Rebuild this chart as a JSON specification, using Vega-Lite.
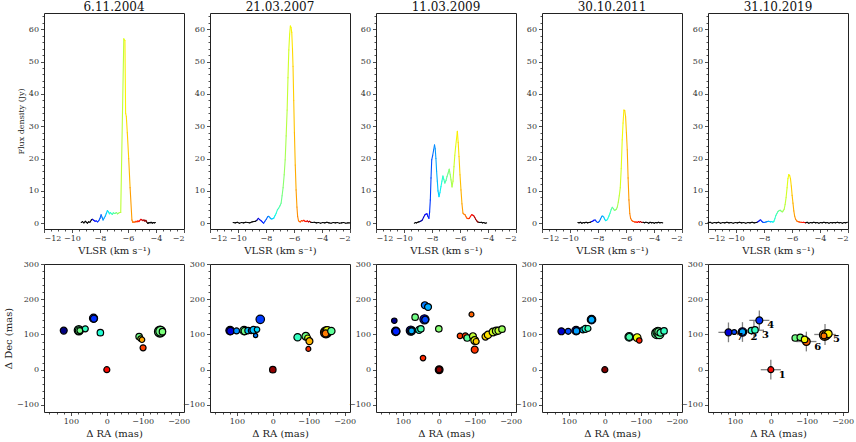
{
"$schema": "https://vega.github.io/schema/vega-lite/v6.json",
"padding": {"left": 3, "top": 0, "right": 4, "bottom": 4},
"background": "white",
"config": {
  "font": "DejaVu Serif",
  "view": {"stroke": "#222", "strokeWidth": 1},
  "axis": {"domain": false, "grid": false, "tickColor": "#222", "tickSize": 3.5, "tickWidth": 0.8, "labelFont": "DejaVu Serif", "labelFontSize": 8, "labelColor": "#333", "labelPadding": 2, "titleFont": "DejaVu Serif", "titleFontSize": 10, "titleFontWeight": "normal", "titleColor": "#222", "titlePadding": 3},
  "title": {"font": "DejaVu Serif", "fontSize": 12, "fontWeight": "normal", "offset": -1, "color": "#111"}
},
"datasets": {
  "s1": [{"v":-9.34,"f":0.2},{"v":-9.25,"f":0.5},{"v":-9.15,"f":0.1},{"v":-9.05,"f":0.6},{"v":-8.98,"f":0.3},{"v":-8.9,"f":0.0},{"v":-8.82,"f":0.4},{"v":-8.72,"f":0.3},{"v":-8.62,"f":1.0},{"v":-8.55,"f":1.2},{"v":-8.45,"f":0.9},{"v":-8.35,"f":0.6},{"v":-8.27,"f":0.7},{"v":-8.17,"f":0.4},{"v":-8.08,"f":0.8},{"v":-8.0,"f":1.5},{"v":-7.92,"f":2.6},{"v":-7.85,"f":1.8},{"v":-7.78,"f":1.0},{"v":-7.7,"f":1.6},{"v":-7.62,"f":2.2},{"v":-7.55,"f":3.0},{"v":-7.47,"f":3.9},{"v":-7.4,"f":3.5},{"v":-7.33,"f":2.9},{"v":-7.27,"f":3.3},{"v":-7.2,"f":3.0},{"v":-7.12,"f":2.7},{"v":-7.05,"f":3.2},{"v":-6.98,"f":3.0},{"v":-6.9,"f":3.1},{"v":-6.82,"f":3.3},{"v":-6.75,"f":2.9},{"v":-6.67,"f":3.1},{"v":-6.6,"f":3.3},{"v":-6.52,"f":3.3},{"v":-6.3,"f":57.0},{"v":-6.22,"f":56.5},{"v":-6.17,"f":34.0},{"v":-6.12,"f":33.0},{"v":-6.05,"f":28.0},{"v":-5.95,"f":20.0},{"v":-5.85,"f":11.0},{"v":-5.72,"f":1.0},{"v":-5.65,"f":0.2},{"v":-5.58,"f":0.4},{"v":-5.5,"f":0.3},{"v":-5.43,"f":0.6},{"v":-5.36,"f":0.4},{"v":-5.29,"f":0.7},{"v":-5.22,"f":0.5},{"v":-5.15,"f":0.9},{"v":-5.08,"f":1.2},{"v":-5.0,"f":1.0},{"v":-4.93,"f":0.8},{"v":-4.86,"f":1.0},{"v":-4.79,"f":0.6},{"v":-4.72,"f":0.9},{"v":-4.65,"f":0.3},{"v":-4.58,"f":-0.1},{"v":-4.5,"f":0.2},{"v":-4.42,"f":0.1},{"v":-4.35,"f":0.3},{"v":-4.27,"f":0.0},{"v":-4.2,"f":0.2},{"v":-4.12,"f":0.1},{"v":-4.04,"f":0.2}],
  "s2": [{"v":-10.35,"f":0.2},{"v":-10.2,"f":0.1},{"v":-10.05,"f":0.3},{"v":-9.9,"f":0.0},{"v":-9.75,"f":0.2},{"v":-9.6,"f":0.1},{"v":-9.45,"f":0.3},{"v":-9.3,"f":0.2},{"v":-9.15,"f":0.1},{"v":-9.0,"f":0.4},{"v":-8.85,"f":0.5},{"v":-8.75,"f":0.6},{"v":-8.65,"f":0.9},{"v":-8.55,"f":1.5},{"v":-8.45,"f":1.1},{"v":-8.34,"f":0.7},{"v":-8.25,"f":0.3},{"v":-8.17,"f":0.0},{"v":-8.08,"f":0.6},{"v":-7.98,"f":1.2},{"v":-7.88,"f":2.0},{"v":-7.8,"f":2.1},{"v":-7.7,"f":1.6},{"v":-7.62,"f":1.3},{"v":-7.52,"f":1.4},{"v":-7.44,"f":1.6},{"v":-7.35,"f":2.4},{"v":-7.27,"f":3.1},{"v":-7.18,"f":4.2},{"v":-7.1,"f":4.6},{"v":-7.0,"f":5.4},{"v":-6.92,"f":6.2},{"v":-6.85,"f":8.5},{"v":-6.78,"f":11.0},{"v":-6.7,"f":15.0},{"v":-6.63,"f":19.6},{"v":-6.56,"f":27.0},{"v":-6.49,"f":35.0},{"v":-6.43,"f":45.0},{"v":-6.37,"f":53.6},{"v":-6.31,"f":58.5},{"v":-6.26,"f":61.0},{"v":-6.21,"f":60.5},{"v":-6.16,"f":59.0},{"v":-6.11,"f":54.0},{"v":-6.07,"f":48.5},{"v":-6.02,"f":38.0},{"v":-5.97,"f":28.0},{"v":-5.91,"f":18.0},{"v":-5.85,"f":10.3},{"v":-5.79,"f":5.0},{"v":-5.74,"f":2.1},{"v":-5.68,"f":0.8},{"v":-5.62,"f":0.5},{"v":-5.55,"f":0.4},{"v":-5.47,"f":0.8},{"v":-5.38,"f":0.7},{"v":-5.3,"f":0.9},{"v":-5.22,"f":0.6},{"v":-5.14,"f":0.5},{"v":-5.05,"f":0.7},{"v":-4.97,"f":0.4},{"v":-4.9,"f":0.6},{"v":-4.8,"f":0.3},{"v":-4.7,"f":0.2},{"v":-4.55,"f":0.3},{"v":-4.4,"f":0.1},{"v":-4.25,"f":0.2},{"v":-4.1,"f":0.0},{"v":-3.95,"f":0.2},{"v":-3.8,"f":0.1},{"v":-3.65,"f":0.3},{"v":-3.5,"f":0.1},{"v":-3.35,"f":0.0},{"v":-3.2,"f":0.2},{"v":-3.05,"f":0.1},{"v":-2.9,"f":0.2},{"v":-2.75,"f":0.0},{"v":-2.6,"f":0.1},{"v":-2.45,"f":0.2},{"v":-2.3,"f":0.0},{"v":-2.15,"f":0.1},{"v":-2.0,"f":0.1}],
  "s3": [{"v":-9.26,"f":0.0},{"v":-9.18,"f":0.2},{"v":-9.1,"f":0.1},{"v":-9.02,"f":0.3},{"v":-8.94,"f":0.4},{"v":-8.86,"f":0.5},{"v":-8.78,"f":0.7},{"v":-8.69,"f":1.0},{"v":-8.6,"f":1.8},{"v":-8.5,"f":2.6},{"v":-8.43,"f":2.8},{"v":-8.36,"f":2.9},{"v":-8.29,"f":2.1},{"v":-8.22,"f":1.5},{"v":-8.17,"f":3.5},{"v":-8.12,"f":7.2},{"v":-8.07,"f":14.0},{"v":-8.02,"f":19.6},{"v":-7.95,"f":21.0},{"v":-7.88,"f":22.7},{"v":-7.82,"f":24.2},{"v":-7.77,"f":23.0},{"v":-7.72,"f":20.0},{"v":-7.67,"f":16.0},{"v":-7.62,"f":13.0},{"v":-7.57,"f":10.0},{"v":-7.5,"f":8.2},{"v":-7.43,"f":9.5},{"v":-7.36,"f":11.3},{"v":-7.29,"f":13.0},{"v":-7.22,"f":14.6},{"v":-7.15,"f":13.5},{"v":-7.08,"f":12.4},{"v":-7.0,"f":13.2},{"v":-6.93,"f":14.4},{"v":-6.85,"f":15.5},{"v":-6.77,"f":16.7},{"v":-6.7,"f":15.0},{"v":-6.64,"f":13.4},{"v":-6.57,"f":11.2},{"v":-6.5,"f":13.0},{"v":-6.43,"f":17.5},{"v":-6.37,"f":21.0},{"v":-6.31,"f":23.7},{"v":-6.25,"f":26.0},{"v":-6.19,"f":28.4},{"v":-6.13,"f":25.0},{"v":-6.07,"f":20.6},{"v":-6.0,"f":15.0},{"v":-5.93,"f":10.3},{"v":-5.86,"f":6.0},{"v":-5.79,"f":3.1},{"v":-5.72,"f":2.8},{"v":-5.64,"f":2.6},{"v":-5.57,"f":2.0},{"v":-5.5,"f":1.5},{"v":-5.42,"f":1.4},{"v":-5.33,"f":1.5},{"v":-5.25,"f":2.1},{"v":-5.17,"f":2.6},{"v":-5.1,"f":2.5},{"v":-5.02,"f":2.3},{"v":-4.95,"f":1.8},{"v":-4.88,"f":1.2},{"v":-4.8,"f":0.7},{"v":-4.74,"f":0.4},{"v":-4.66,"f":0.3},{"v":-4.57,"f":0.2},{"v":-4.48,"f":0.3},{"v":-4.4,"f":0.1},{"v":-4.3,"f":0.2},{"v":-4.2,"f":0.0},{"v":-4.1,"f":0.1}],
  "s4": [{"v":-9.44,"f":0.2},{"v":-9.35,"f":0.1},{"v":-9.25,"f":0.3},{"v":-9.15,"f":0.0},{"v":-9.05,"f":0.2},{"v":-8.95,"f":0.1},{"v":-8.85,"f":0.3},{"v":-8.75,"f":0.1},{"v":-8.65,"f":0.2},{"v":-8.55,"f":0.3},{"v":-8.45,"f":0.5},{"v":-8.38,"f":0.6},{"v":-8.3,"f":0.9},{"v":-8.21,"f":1.0},{"v":-8.13,"f":0.6},{"v":-8.04,"f":0.2},{"v":-7.97,"f":0.3},{"v":-7.9,"f":0.6},{"v":-7.82,"f":1.3},{"v":-7.73,"f":2.1},{"v":-7.66,"f":2.2},{"v":-7.59,"f":1.9},{"v":-7.52,"f":1.2},{"v":-7.45,"f":0.8},{"v":-7.38,"f":0.9},{"v":-7.31,"f":1.3},{"v":-7.22,"f":2.2},{"v":-7.14,"f":3.1},{"v":-7.06,"f":4.2},{"v":-6.98,"f":4.9},{"v":-6.9,"f":4.5},{"v":-6.83,"f":4.0},{"v":-6.76,"f":4.1},{"v":-6.69,"f":4.3},{"v":-6.62,"f":5.0},{"v":-6.55,"f":6.5},{"v":-6.48,"f":8.5},{"v":-6.41,"f":11.0},{"v":-6.34,"f":17.0},{"v":-6.27,"f":25.8},{"v":-6.21,"f":31.0},{"v":-6.15,"f":35.0},{"v":-6.09,"f":34.8},{"v":-6.03,"f":33.0},{"v":-5.97,"f":28.0},{"v":-5.91,"f":22.7},{"v":-5.85,"f":14.0},{"v":-5.79,"f":7.2},{"v":-5.73,"f":3.0},{"v":-5.67,"f":1.5},{"v":-5.6,"f":0.9},{"v":-5.52,"f":0.6},{"v":-5.44,"f":0.5},{"v":-5.36,"f":0.3},{"v":-5.28,"f":0.4},{"v":-5.2,"f":0.2},{"v":-5.12,"f":0.5},{"v":-5.04,"f":0.3},{"v":-4.96,"f":0.5},{"v":-4.88,"f":0.2},{"v":-4.78,"f":0.3},{"v":-4.68,"f":0.1},{"v":-4.58,"f":0.3},{"v":-4.48,"f":0.2},{"v":-4.38,"f":0.0},{"v":-4.28,"f":0.3},{"v":-4.18,"f":0.1},{"v":-4.08,"f":0.2},{"v":-3.98,"f":0.0},{"v":-3.88,"f":0.2},{"v":-3.78,"f":0.1},{"v":-3.68,"f":0.3},{"v":-3.58,"f":0.1},{"v":-3.48,"f":0.2},{"v":-3.38,"f":0.1}],
  "s5": [{"v":-12.0,"f":0.1},{"v":-11.85,"f":0.3},{"v":-11.7,"f":0.0},{"v":-11.55,"f":0.2},{"v":-11.4,"f":0.1},{"v":-11.25,"f":0.3},{"v":-11.1,"f":0.0},{"v":-10.95,"f":0.2},{"v":-10.8,"f":0.1},{"v":-10.65,"f":0.3},{"v":-10.5,"f":0.1},{"v":-10.35,"f":0.2},{"v":-10.2,"f":0.0},{"v":-10.05,"f":0.2},{"v":-9.9,"f":0.1},{"v":-9.75,"f":0.3},{"v":-9.6,"f":0.1},{"v":-9.45,"f":0.2},{"v":-9.3,"f":0.0},{"v":-9.15,"f":0.2},{"v":-9.0,"f":0.1},{"v":-8.85,"f":0.3},{"v":-8.7,"f":0.1},{"v":-8.55,"f":0.2},{"v":-8.45,"f":0.4},{"v":-8.38,"f":0.6},{"v":-8.31,"f":0.9},{"v":-8.24,"f":1.0},{"v":-8.16,"f":0.6},{"v":-8.08,"f":0.3},{"v":-8.0,"f":0.2},{"v":-7.92,"f":0.3},{"v":-7.84,"f":0.4},{"v":-7.76,"f":0.5},{"v":-7.68,"f":0.6},{"v":-7.6,"f":0.5},{"v":-7.52,"f":0.4},{"v":-7.44,"f":0.5},{"v":-7.36,"f":0.3},{"v":-7.29,"f":0.6},{"v":-7.22,"f":1.4},{"v":-7.15,"f":2.4},{"v":-7.08,"f":3.0},{"v":-7.0,"f":3.6},{"v":-6.92,"f":3.9},{"v":-6.84,"f":4.0},{"v":-6.77,"f":3.7},{"v":-6.7,"f":3.5},{"v":-6.63,"f":3.8},{"v":-6.56,"f":4.3},{"v":-6.49,"f":5.8},{"v":-6.42,"f":8.0},{"v":-6.35,"f":11.0},{"v":-6.29,"f":13.8},{"v":-6.23,"f":15.0},{"v":-6.17,"f":14.8},{"v":-6.11,"f":13.8},{"v":-6.05,"f":11.5},{"v":-5.99,"f":8.6},{"v":-5.93,"f":6.2},{"v":-5.87,"f":3.8},{"v":-5.81,"f":2.2},{"v":-5.74,"f":1.2},{"v":-5.66,"f":0.7},{"v":-5.58,"f":0.5},{"v":-5.5,"f":0.4},{"v":-5.42,"f":0.3},{"v":-5.34,"f":0.3},{"v":-5.26,"f":0.2},{"v":-5.18,"f":0.3},{"v":-5.1,"f":0.2},{"v":-5.02,"f":0.1},{"v":-4.92,"f":0.3},{"v":-4.8,"f":0.0},{"v":-4.68,"f":0.2},{"v":-4.56,"f":0.1},{"v":-4.44,"f":0.3},{"v":-4.32,"f":0.1},{"v":-4.2,"f":0.2},{"v":-4.08,"f":0.0},{"v":-3.96,"f":0.2},{"v":-3.84,"f":0.1},{"v":-3.72,"f":0.3},{"v":-3.6,"f":0.1},{"v":-3.48,"f":0.2},{"v":-3.36,"f":0.0},{"v":-3.24,"f":0.2},{"v":-3.12,"f":0.1},{"v":-3.0,"f":0.2},{"v":-2.88,"f":0.1},{"v":-2.76,"f":0.3},{"v":-2.64,"f":0.1},{"v":-2.52,"f":0.2},{"v":-2.4,"f":0.0},{"v":-2.28,"f":0.2},{"v":-2.16,"f":0.1},{"v":-2.04,"f":0.3}],
  "b1": [{"ra":-148,"dec":108,"v":-6.95,"flux":10},{"ra":-150,"dec":109,"v":-6.9,"flux":8},{"ra":-155,"dec":108,"v":-6.85,"flux":3.5},{"ra":78,"dec":112,"v":-7.0,"flux":7},{"ra":77,"dec":111,"v":-6.95,"flux":5},{"ra":75,"dec":111,"v":-6.9,"flux":3},{"ra":120,"dec":111,"v":-8.9,"flux":4},{"ra":60,"dec":116,"v":-7.2,"flux":3},{"ra":37,"dec":146,"v":-8.25,"flux":5.5},{"ra":36,"dec":145,"v":-8.2,"flux":4},{"ra":18,"dec":105,"v":-7.3,"flux":3.5},{"ra":0,"dec":0,"v":-5.2,"flux":3},{"ra":-90,"dec":94,"v":-6.9,"flux":3.5},{"ra":-94,"dec":88,"v":-6.5,"flux":2.5},{"ra":-98,"dec":85,"v":-5.9,"flux":2.5},{"ra":-101,"dec":62,"v":-5.45,"flux":3}],
  "b2": [{"ra":-148,"dec":106,"v":-5.5,"flux":10},{"ra":-150,"dec":108,"v":-5.9,"flux":8},{"ra":-152,"dec":110,"v":-6.3,"flux":6},{"ra":-147,"dec":103,"v":-5.7,"flux":4},{"ra":-163,"dec":110,"v":-7.0,"flux":4.5},{"ra":119,"dec":111,"v":-8.75,"flux":6},{"ra":118,"dec":110,"v":-8.6,"flux":4.5},{"ra":101,"dec":110,"v":-7.8,"flux":3},{"ra":80,"dec":111,"v":-7.0,"flux":6},{"ra":78,"dec":110,"v":-6.9,"flux":4.5},{"ra":69,"dec":111,"v":-7.6,"flux":3.5},{"ra":60,"dec":111,"v":-8.0,"flux":3},{"ra":54,"dec":113,"v":-7.6,"flux":4},{"ra":48,"dec":97,"v":-7.9,"flux":1.5},{"ra":44,"dec":114,"v":-7.5,"flux":2.5},{"ra":35,"dec":143,"v":-8.15,"flux":6},{"ra":0,"dec":0,"v":-4.85,"flux":3.5},{"ra":-69,"dec":92,"v":-7.2,"flux":4.5},{"ra":-92,"dec":95,"v":-6.9,"flux":5},{"ra":-97,"dec":90,"v":-6.4,"flux":3},{"ra":-102,"dec":81,"v":-5.95,"flux":4},{"ra":-99,"dec":59,"v":-5.35,"flux":2}],
  "b3": [{"ra":124,"dec":139,"v":-8.85,"flux":2.5},{"ra":120,"dec":109,"v":-8.45,"flux":6},{"ra":119,"dec":109,"v":-8.25,"flux":4.5},{"ra":78,"dec":111,"v":-8.6,"flux":7},{"ra":76,"dec":110,"v":-7.9,"flux":5},{"ra":76,"dec":110,"v":-7.7,"flux":3},{"ra":66,"dec":149,"v":-6.9,"flux":3.5},{"ra":55,"dec":113,"v":-7.3,"flux":4},{"ra":50,"dec":116,"v":-7.1,"flux":3.5},{"ra":39,"dec":183,"v":-7.9,"flux":4},{"ra":30,"dec":178,"v":-7.7,"flux":4},{"ra":40,"dec":143,"v":-8.5,"flux":7},{"ra":38,"dec":142,"v":-8.1,"flux":4},{"ra":44,"dec":33,"v":-5.35,"flux":2.5},{"ra":0,"dec":116,"v":-6.8,"flux":3.5},{"ra":-1,"dec":0,"v":-4.8,"flux":5},{"ra":-1,"dec":0,"v":-4.85,"flux":3},{"ra":-59,"dec":96,"v":-5.45,"flux":2.5},{"ra":-74,"dec":96,"v":-5.4,"flux":3},{"ra":-91,"dec":157,"v":-5.6,"flux":2},{"ra":-79,"dec":90,"v":-7.0,"flux":3.5},{"ra":-95,"dec":95,"v":-6.5,"flux":4},{"ra":-100,"dec":83,"v":-6.3,"flux":5},{"ra":-104,"dec":80,"v":-6.05,"flux":3},{"ra":-100,"dec":57,"v":-5.4,"flux":4},{"ra":-130,"dec":94,"v":-6.1,"flux":4},{"ra":-137,"dec":99,"v":-6.15,"flux":4.5},{"ra":-151,"dec":107,"v":-6.4,"flux":5},{"ra":-160,"dec":110,"v":-6.6,"flux":5},{"ra":-166,"dec":111,"v":-6.5,"flux":4},{"ra":-176,"dec":115,"v":-6.7,"flux":3.5}],
  "b4": [{"ra":121,"dec":109,"v":-8.65,"flux":4},{"ra":102,"dec":109,"v":-8.1,"flux":3},{"ra":80,"dec":111,"v":-8.5,"flux":6},{"ra":79,"dec":110,"v":-7.75,"flux":3.5},{"ra":61,"dec":113,"v":-7.6,"flux":3},{"ra":54,"dec":116,"v":-7.3,"flux":4},{"ra":47,"dec":117,"v":-7.15,"flux":3},{"ra":37,"dec":142,"v":-8.3,"flux":6},{"ra":37,"dec":142,"v":-7.7,"flux":4},{"ra":0,"dec":0,"v":-4.8,"flux":3},{"ra":-68,"dec":93,"v":-7.3,"flux":6},{"ra":-68,"dec":93,"v":-7.1,"flux":4},{"ra":-90,"dec":91,"v":-6.3,"flux":5},{"ra":-96,"dec":83,"v":-5.3,"flux":2.5},{"ra":-145,"dec":103,"v":-7.0,"flux":9},{"ra":-148,"dec":106,"v":-6.9,"flux":8},{"ra":-152,"dec":101,"v":-7.0,"flux":7},{"ra":-150,"dec":108,"v":-6.95,"flux":5},{"ra":-155,"dec":105,"v":-7.1,"flux":4},{"ra":-165,"dec":110,"v":-7.2,"flux":3.5}],
  "b5": [{"ra":118,"dec":106,"v":-8.6,"flux":4},{"ra":102,"dec":107,"v":-8.1,"flux":2},{"ra":79,"dec":107,"v":-8.5,"flux":6},{"ra":79,"dec":107,"v":-7.7,"flux":3.5},{"ra":54,"dec":111,"v":-7.25,"flux":3.5},{"ra":44,"dec":113,"v":-7.2,"flux":3.5},{"ra":32,"dec":140,"v":-8.2,"flux":4},{"ra":0,"dec":0,"v":-5.2,"flux":3},{"ra":-68,"dec":90,"v":-6.9,"flux":3.5},{"ra":-82,"dec":92,"v":-6.85,"flux":3.5},{"ra":-99,"dec":80,"v":-5.6,"flux":5},{"ra":-94,"dec":86,"v":-6.25,"flux":3.5},{"ra":-150,"dec":98,"v":-5.8,"flux":9},{"ra":-155,"dec":100,"v":-6.0,"flux":7},{"ra":-160,"dec":102,"v":-6.2,"flux":5},{"ra":-148,"dec":96,"v":-5.7,"flux":3}],
  "b5e": [{"id":"1","ra":0,"dec":0,"era":28,"edec":28},{"id":"2","ra":79,"dec":107,"era":28,"edec":28},{"id":"3","ra":47,"dec":112,"era":28,"edec":28},{"id":"4","ra":32,"dec":140,"era":28,"edec":28},{"id":"5","ra":-151,"dec":100,"era":30,"edec":30},{"id":"6","ra":-99,"dec":80,"era":28,"edec":28},{"id":"7","ra":118,"dec":106,"era":28,"edec":28}]
},
"columns": 5,
"bounds": "flush",
"spacing": {"row": 35, "column": 26},
"resolve": {"scale": {"color": "independent", "size": "independent"}},
"concat": [
  {"width": 140, "height": 216, "title": "6.11.2004", "data": {"name": "s1"},
   "layer": [
    {"transform": [{"window": [{"op": "lead", "field": "v", "as": "v2"}, {"op": "lead", "field": "f", "as": "f2"}], "sort": [{"field": "v", "order": "ascending"}]}, {"filter": "datum.v2 != null"}],
     "mark": {"type": "rule", "strokeWidth": 1.1, "strokeCap": "round"},
     "encoding": {
      "x": {"field": "v", "type": "quantitative", "scale": {"domain": [-12, -2], "nice": false, "zero": false}, "axis": {"orient": "bottom", "values": [-12, -10, -8, -6, -4, -2], "title": "VLSR (km s⁻¹)"}},
      "y": {"field": "f", "type": "quantitative", "scale": {"domain": [-1.8, 65], "nice": false, "zero": false}, "axis": {"orient": "left", "values": [0, 10, 20, 30, 40, 50, 60], "title": "Flux density (Jy)", "titleFontSize": 8}},
      "x2": {"field": "v2"}, "y2": {"field": "f2"},
      "color": {"condition": {"test": "datum.v < -8.6 || datum.v > -4.68", "value": "black"}, "field": "v", "type": "quantitative", "legend": null, "scale": {"domain": [-8.9, -8.449, -8.3875, -7.506, -7.3625, -6.85, -6.276, -6.194, -5.251, -5.169, -4.8], "range": ["#000080", "#0000ff", "#0000ff", "#00dbff", "#14ffe2", "#7bff7b", "#eeff08", "#ffec00", "#ff1300", "#ff0000", "#800000"], "interpolate": "rgb", "clamp": true}}
     }},
    {"mark": {"type": "point", "opacity": 0},
     "encoding": {
      "x": {"field": "v", "type": "quantitative", "axis": {"orient": "bottom", "values": [-11.5, -11, -10.5, -9.5, -9, -8.5, -7.5, -7, -6.5, -5.5, -5, -4.5, -3.5, -3, -2.5], "labels": false, "tickSize": 2, "title": null}},
      "y": {"field": "f", "type": "quantitative", "axis": {"orient": "left", "values": [2, 4, 6, 8, 12, 14, 16, 18, 22, 24, 26, 28, 32, 34, 36, 38, 42, 44, 46, 48, 52, 54, 56, 58, 62, 64], "labels": false, "tickSize": 2, "title": null}}
     }}
   ],
   "resolve": {"axis": {"x": "independent", "y": "independent"}}
  },
  {"width": 140, "height": 216, "title": "21.03.2007", "data": {"name": "s2"},
   "layer": [
    {"transform": [{"window": [{"op": "lead", "field": "v", "as": "v2"}, {"op": "lead", "field": "f", "as": "f2"}], "sort": [{"field": "v", "order": "ascending"}]}, {"filter": "datum.v2 != null"}],
     "mark": {"type": "rule", "strokeWidth": 1.1, "strokeCap": "round"},
     "encoding": {
      "x": {"field": "v", "type": "quantitative", "scale": {"domain": [-12, -2], "nice": false, "zero": false}, "axis": {"orient": "bottom", "values": [-12, -10, -8, -6, -4, -2], "title": "VLSR (km s⁻¹)"}},
      "y": {"field": "f", "type": "quantitative", "scale": {"domain": [-1.8, 65], "nice": false, "zero": false}, "axis": {"orient": "left", "values": [0, 10, 20, 30, 40, 50, 60], "title": null}},
      "x2": {"field": "v2"}, "y2": {"field": "f2"},
      "color": {"condition": {"test": "datum.v < -8.68 || datum.v > -4.82", "value": "black"}, "field": "v", "type": "quantitative", "legend": null, "scale": {"domain": [-8.9, -8.449, -8.3875, -7.506, -7.3625, -6.85, -6.276, -6.194, -5.251, -5.169, -4.8], "range": ["#000080", "#0000ff", "#0000ff", "#00dbff", "#14ffe2", "#7bff7b", "#eeff08", "#ffec00", "#ff1300", "#ff0000", "#800000"], "interpolate": "rgb", "clamp": true}}
     }},
    {"mark": {"type": "point", "opacity": 0},
     "encoding": {
      "x": {"field": "v", "type": "quantitative", "axis": {"orient": "bottom", "values": [-11.5, -11, -10.5, -9.5, -9, -8.5, -7.5, -7, -6.5, -5.5, -5, -4.5, -3.5, -3, -2.5], "labels": false, "tickSize": 2, "title": null}},
      "y": {"field": "f", "type": "quantitative", "axis": {"orient": "left", "values": [2, 4, 6, 8, 12, 14, 16, 18, 22, 24, 26, 28, 32, 34, 36, 38, 42, 44, 46, 48, 52, 54, 56, 58, 62, 64], "labels": false, "tickSize": 2, "title": null}}
     }}
   ],
   "resolve": {"axis": {"x": "independent", "y": "independent"}}
  },
  {"width": 140, "height": 216, "title": "11.03.2009", "data": {"name": "s3"},
   "layer": [
    {"transform": [{"window": [{"op": "lead", "field": "v", "as": "v2"}, {"op": "lead", "field": "f", "as": "f2"}], "sort": [{"field": "v", "order": "ascending"}]}, {"filter": "datum.v2 != null"}],
     "mark": {"type": "rule", "strokeWidth": 1.1, "strokeCap": "round"},
     "encoding": {
      "x": {"field": "v", "type": "quantitative", "scale": {"domain": [-12, -2], "nice": false, "zero": false}, "axis": {"orient": "bottom", "values": [-12, -10, -8, -6, -4, -2], "title": "VLSR (km s⁻¹)"}},
      "y": {"field": "f", "type": "quantitative", "scale": {"domain": [-1.8, 65], "nice": false, "zero": false}, "axis": {"orient": "left", "values": [0, 10, 20, 30, 40, 50, 60], "title": null}},
      "x2": {"field": "v2"}, "y2": {"field": "f2"},
      "color": {"condition": {"test": "datum.v < -8.92 || datum.v > -4.7", "value": "black"}, "field": "v", "type": "quantitative", "legend": null, "scale": {"domain": [-8.9, -8.449, -8.3875, -7.506, -7.3625, -6.85, -6.276, -6.194, -5.251, -5.169, -4.8], "range": ["#000080", "#0000ff", "#0000ff", "#00dbff", "#14ffe2", "#7bff7b", "#eeff08", "#ffec00", "#ff1300", "#ff0000", "#800000"], "interpolate": "rgb", "clamp": true}}
     }},
    {"mark": {"type": "point", "opacity": 0},
     "encoding": {
      "x": {"field": "v", "type": "quantitative", "axis": {"orient": "bottom", "values": [-11.5, -11, -10.5, -9.5, -9, -8.5, -7.5, -7, -6.5, -5.5, -5, -4.5, -3.5, -3, -2.5], "labels": false, "tickSize": 2, "title": null}},
      "y": {"field": "f", "type": "quantitative", "axis": {"orient": "left", "values": [2, 4, 6, 8, 12, 14, 16, 18, 22, 24, 26, 28, 32, 34, 36, 38, 42, 44, 46, 48, 52, 54, 56, 58, 62, 64], "labels": false, "tickSize": 2, "title": null}}
     }}
   ],
   "resolve": {"axis": {"x": "independent", "y": "independent"}}
  },
  {"width": 140, "height": 216, "title": "30.10.2011", "data": {"name": "s4"},
   "layer": [
    {"transform": [{"window": [{"op": "lead", "field": "v", "as": "v2"}, {"op": "lead", "field": "f", "as": "f2"}], "sort": [{"field": "v", "order": "ascending"}]}, {"filter": "datum.v2 != null"}],
     "mark": {"type": "rule", "strokeWidth": 1.1, "strokeCap": "round"},
     "encoding": {
      "x": {"field": "v", "type": "quantitative", "scale": {"domain": [-12, -2], "nice": false, "zero": false}, "axis": {"orient": "bottom", "values": [-12, -10, -8, -6, -4, -2], "title": "VLSR (km s⁻¹)"}},
      "y": {"field": "f", "type": "quantitative", "scale": {"domain": [-1.8, 65], "nice": false, "zero": false}, "axis": {"orient": "left", "values": [0, 10, 20, 30, 40, 50, 60], "title": null}},
      "x2": {"field": "v2"}, "y2": {"field": "f2"},
      "color": {"condition": {"test": "datum.v < -8.47 || datum.v > -4.85", "value": "black"}, "field": "v", "type": "quantitative", "legend": null, "scale": {"domain": [-8.9, -8.449, -8.3875, -7.506, -7.3625, -6.85, -6.276, -6.194, -5.251, -5.169, -4.8], "range": ["#000080", "#0000ff", "#0000ff", "#00dbff", "#14ffe2", "#7bff7b", "#eeff08", "#ffec00", "#ff1300", "#ff0000", "#800000"], "interpolate": "rgb", "clamp": true}}
     }},
    {"mark": {"type": "point", "opacity": 0},
     "encoding": {
      "x": {"field": "v", "type": "quantitative", "axis": {"orient": "bottom", "values": [-11.5, -11, -10.5, -9.5, -9, -8.5, -7.5, -7, -6.5, -5.5, -5, -4.5, -3.5, -3, -2.5], "labels": false, "tickSize": 2, "title": null}},
      "y": {"field": "f", "type": "quantitative", "axis": {"orient": "left", "values": [2, 4, 6, 8, 12, 14, 16, 18, 22, 24, 26, 28, 32, 34, 36, 38, 42, 44, 46, 48, 52, 54, 56, 58, 62, 64], "labels": false, "tickSize": 2, "title": null}}
     }}
   ],
   "resolve": {"axis": {"x": "independent", "y": "independent"}}
  },
  {"width": 140, "height": 216, "title": "31.10.2019", "data": {"name": "s5"},
   "layer": [
    {"transform": [{"window": [{"op": "lead", "field": "v", "as": "v2"}, {"op": "lead", "field": "f", "as": "f2"}], "sort": [{"field": "v", "order": "ascending"}]}, {"filter": "datum.v2 != null"}],
     "mark": {"type": "rule", "strokeWidth": 1.1, "strokeCap": "round"},
     "encoding": {
      "x": {"field": "v", "type": "quantitative", "scale": {"domain": [-12, -2], "nice": false, "zero": false}, "axis": {"orient": "bottom", "values": [-12, -10, -8, -6, -4, -2], "title": "VLSR (km s⁻¹)"}},
      "y": {"field": "f", "type": "quantitative", "scale": {"domain": [-1.8, 65], "nice": false, "zero": false}, "axis": {"orient": "left", "values": [0, 10, 20, 30, 40, 50, 60], "title": null}},
      "x2": {"field": "v2"}, "y2": {"field": "f2"},
      "color": {"condition": {"test": "datum.v < -8.47 || datum.v > -5.06", "value": "black"}, "field": "v", "type": "quantitative", "legend": null, "scale": {"domain": [-8.9, -8.449, -8.3875, -7.506, -7.3625, -6.85, -6.276, -6.194, -5.251, -5.169, -4.8], "range": ["#000080", "#0000ff", "#0000ff", "#00dbff", "#14ffe2", "#7bff7b", "#eeff08", "#ffec00", "#ff1300", "#ff0000", "#800000"], "interpolate": "rgb", "clamp": true}}
     }},
    {"mark": {"type": "point", "opacity": 0},
     "encoding": {
      "x": {"field": "v", "type": "quantitative", "axis": {"orient": "bottom", "values": [-11.5, -11, -10.5, -9.5, -9, -8.5, -7.5, -7, -6.5, -5.5, -5, -4.5, -3.5, -3, -2.5], "labels": false, "tickSize": 2, "title": null}},
      "y": {"field": "f", "type": "quantitative", "axis": {"orient": "left", "values": [2, 4, 6, 8, 12, 14, 16, 18, 22, 24, 26, 28, 32, 34, 36, 38, 42, 44, 46, 48, 52, 54, 56, 58, 62, 64], "labels": false, "tickSize": 2, "title": null}}
     }}
   ],
   "resolve": {"axis": {"x": "independent", "y": "independent"}}
  },
  {"width": 140, "height": 148, "data": {"name": "b1"},
   "layer": [
    {"mark": {"type": "circle", "stroke": "black", "strokeWidth": 1.2, "opacity": 1},
     "encoding": {
      "x": {"field": "ra", "type": "quantitative", "scale": {"domain": [-215, 175], "reverse": true, "nice": false, "zero": false}, "axis": {"orient": "bottom", "values": [100, 0, -100, -200], "title": "Δ RA (mas)"}},
      "y": {"field": "dec", "type": "quantitative", "scale": {"domain": [-120, 300], "nice": false, "zero": false}, "axis": {"orient": "left", "values": [-100, 0, 100, 200, 300], "title": "Δ Dec (mas)"}},
      "color": {"field": "v", "type": "quantitative", "legend": null, "scale": {"domain": [-8.9, -8.449, -8.3875, -7.506, -7.3625, -6.85, -6.276, -6.194, -5.251, -5.169, -4.8], "range": ["#000080", "#0000ff", "#0000ff", "#00dbff", "#14ffe2", "#7bff7b", "#eeff08", "#ffec00", "#ff1300", "#ff0000", "#800000"], "interpolate": "rgb", "clamp": true}},
      "size": {"field": "flux", "type": "quantitative", "legend": null, "scale": {"domain": [0, 10], "range": [0, 120]}}
     }},
    {"mark": {"type": "point", "opacity": 0},
     "encoding": {
      "x": {"field": "ra", "type": "quantitative", "axis": {"orient": "bottom", "values": [160, 140, 120, 80, 60, 40, 20, -20, -40, -60, -80, -120, -140, -160, -180], "labels": false, "tickSize": 2, "title": null}},
      "y": {"field": "dec", "type": "quantitative", "axis": {"orient": "left", "values": [-80, -60, -40, -20, 20, 40, 60, 80, 120, 140, 160, 180, 220, 240, 260, 280], "labels": false, "tickSize": 2, "title": null}}
     }}
   ],
   "resolve": {"axis": {"x": "independent", "y": "independent"}}
  },
  {"width": 140, "height": 148, "data": {"name": "b2"},
   "layer": [
    {"mark": {"type": "circle", "stroke": "black", "strokeWidth": 1.2, "opacity": 1},
     "encoding": {
      "x": {"field": "ra", "type": "quantitative", "scale": {"domain": [-215, 175], "reverse": true, "nice": false, "zero": false}, "axis": {"orient": "bottom", "values": [100, 0, -100, -200], "title": "Δ RA (mas)"}},
      "y": {"field": "dec", "type": "quantitative", "scale": {"domain": [-120, 300], "nice": false, "zero": false}, "axis": {"orient": "left", "values": [-100, 0, 100, 200, 300], "title": null}},
      "color": {"field": "v", "type": "quantitative", "legend": null, "scale": {"domain": [-8.9, -8.449, -8.3875, -7.506, -7.3625, -6.85, -6.276, -6.194, -5.251, -5.169, -4.8], "range": ["#000080", "#0000ff", "#0000ff", "#00dbff", "#14ffe2", "#7bff7b", "#eeff08", "#ffec00", "#ff1300", "#ff0000", "#800000"], "interpolate": "rgb", "clamp": true}},
      "size": {"field": "flux", "type": "quantitative", "legend": null, "scale": {"domain": [0, 10], "range": [0, 120]}}
     }},
    {"mark": {"type": "point", "opacity": 0},
     "encoding": {
      "x": {"field": "ra", "type": "quantitative", "axis": {"orient": "bottom", "values": [160, 140, 120, 80, 60, 40, 20, -20, -40, -60, -80, -120, -140, -160, -180], "labels": false, "tickSize": 2, "title": null}},
      "y": {"field": "dec", "type": "quantitative", "axis": {"orient": "left", "values": [-80, -60, -40, -20, 20, 40, 60, 80, 120, 140, 160, 180, 220, 240, 260, 280], "labels": false, "tickSize": 2, "title": null}}
     }}
   ],
   "resolve": {"axis": {"x": "independent", "y": "independent"}}
  },
  {"width": 140, "height": 148, "data": {"name": "b3"},
   "layer": [
    {"mark": {"type": "circle", "stroke": "black", "strokeWidth": 1.2, "opacity": 1},
     "encoding": {
      "x": {"field": "ra", "type": "quantitative", "scale": {"domain": [-215, 175], "reverse": true, "nice": false, "zero": false}, "axis": {"orient": "bottom", "values": [100, 0, -100, -200], "title": "Δ RA (mas)"}},
      "y": {"field": "dec", "type": "quantitative", "scale": {"domain": [-120, 300], "nice": false, "zero": false}, "axis": {"orient": "left", "values": [-100, 0, 100, 200, 300], "title": null}},
      "color": {"field": "v", "type": "quantitative", "legend": null, "scale": {"domain": [-8.9, -8.449, -8.3875, -7.506, -7.3625, -6.85, -6.276, -6.194, -5.251, -5.169, -4.8], "range": ["#000080", "#0000ff", "#0000ff", "#00dbff", "#14ffe2", "#7bff7b", "#eeff08", "#ffec00", "#ff1300", "#ff0000", "#800000"], "interpolate": "rgb", "clamp": true}},
      "size": {"field": "flux", "type": "quantitative", "legend": null, "scale": {"domain": [0, 10], "range": [0, 120]}}
     }},
    {"mark": {"type": "point", "opacity": 0},
     "encoding": {
      "x": {"field": "ra", "type": "quantitative", "axis": {"orient": "bottom", "values": [160, 140, 120, 80, 60, 40, 20, -20, -40, -60, -80, -120, -140, -160, -180], "labels": false, "tickSize": 2, "title": null}},
      "y": {"field": "dec", "type": "quantitative", "axis": {"orient": "left", "values": [-80, -60, -40, -20, 20, 40, 60, 80, 120, 140, 160, 180, 220, 240, 260, 280], "labels": false, "tickSize": 2, "title": null}}
     }}
   ],
   "resolve": {"axis": {"x": "independent", "y": "independent"}}
  },
  {"width": 140, "height": 148, "data": {"name": "b4"},
   "layer": [
    {"mark": {"type": "circle", "stroke": "black", "strokeWidth": 1.2, "opacity": 1},
     "encoding": {
      "x": {"field": "ra", "type": "quantitative", "scale": {"domain": [-215, 175], "reverse": true, "nice": false, "zero": false}, "axis": {"orient": "bottom", "values": [100, 0, -100, -200], "title": "Δ RA (mas)"}},
      "y": {"field": "dec", "type": "quantitative", "scale": {"domain": [-120, 300], "nice": false, "zero": false}, "axis": {"orient": "left", "values": [-100, 0, 100, 200, 300], "title": null}},
      "color": {"field": "v", "type": "quantitative", "legend": null, "scale": {"domain": [-8.9, -8.449, -8.3875, -7.506, -7.3625, -6.85, -6.276, -6.194, -5.251, -5.169, -4.8], "range": ["#000080", "#0000ff", "#0000ff", "#00dbff", "#14ffe2", "#7bff7b", "#eeff08", "#ffec00", "#ff1300", "#ff0000", "#800000"], "interpolate": "rgb", "clamp": true}},
      "size": {"field": "flux", "type": "quantitative", "legend": null, "scale": {"domain": [0, 10], "range": [0, 120]}}
     }},
    {"mark": {"type": "point", "opacity": 0},
     "encoding": {
      "x": {"field": "ra", "type": "quantitative", "axis": {"orient": "bottom", "values": [160, 140, 120, 80, 60, 40, 20, -20, -40, -60, -80, -120, -140, -160, -180], "labels": false, "tickSize": 2, "title": null}},
      "y": {"field": "dec", "type": "quantitative", "axis": {"orient": "left", "values": [-80, -60, -40, -20, 20, 40, 60, 80, 120, 140, 160, 180, 220, 240, 260, 280], "labels": false, "tickSize": 2, "title": null}}
     }}
   ],
   "resolve": {"axis": {"x": "independent", "y": "independent"}}
  },
  {"width": 140, "height": 148, "data": {"name": "b5"},
   "layer": [
    {"data": {"name": "b5e"}, "mark": {"type": "errorbar", "color": "#808080", "thickness": 1.3},
     "encoding": {
      "x": {"field": "ra", "type": "quantitative", "scale": {"domain": [-215, 175], "reverse": true, "nice": false, "zero": false}, "axis": null},
      "xError": {"field": "era"},
      "y": {"field": "dec", "type": "quantitative", "axis": null}
     }},
    {"data": {"name": "b5e"}, "mark": {"type": "errorbar", "color": "#808080", "thickness": 1.3},
     "encoding": {
      "y": {"field": "dec", "type": "quantitative", "axis": null},
      "yError": {"field": "edec"},
      "x": {"field": "ra", "type": "quantitative", "axis": null}
     }},
    {"mark": {"type": "circle", "stroke": "black", "strokeWidth": 1.2, "opacity": 1},
     "encoding": {
      "x": {"field": "ra", "type": "quantitative", "scale": {"domain": [-215, 175], "reverse": true, "nice": false, "zero": false}, "axis": {"orient": "bottom", "values": [100, 0, -100, -200], "title": "Δ RA (mas)"}},
      "y": {"field": "dec", "type": "quantitative", "scale": {"domain": [-120, 300], "nice": false, "zero": false}, "axis": {"orient": "left", "values": [-100, 0, 100, 200, 300], "title": null}},
      "color": {"field": "v", "type": "quantitative", "legend": null, "scale": {"domain": [-8.9, -8.449, -8.3875, -7.506, -7.3625, -6.85, -6.276, -6.194, -5.251, -5.169, -4.8], "range": ["#000080", "#0000ff", "#0000ff", "#00dbff", "#14ffe2", "#7bff7b", "#eeff08", "#ffec00", "#ff1300", "#ff0000", "#800000"], "interpolate": "rgb", "clamp": true}},
      "size": {"field": "flux", "type": "quantitative", "legend": null, "scale": {"domain": [0, 10], "range": [0, 120]}}
     }},
    {"data": {"name": "b5e"}, "mark": {"type": "text", "dx": 8, "dy": 5, "align": "left", "fontWeight": "bold", "fontSize": 10, "font": "DejaVu Serif", "color": "black"},
     "encoding": {
      "x": {"field": "ra", "type": "quantitative", "axis": null},
      "y": {"field": "dec", "type": "quantitative", "axis": null},
      "text": {"field": "id"}
     }},
    {"mark": {"type": "point", "opacity": 0},
     "encoding": {
      "x": {"field": "ra", "type": "quantitative", "axis": {"orient": "bottom", "values": [160, 140, 120, 80, 60, 40, 20, -20, -40, -60, -80, -120, -140, -160, -180], "labels": false, "tickSize": 2, "title": null}},
      "y": {"field": "dec", "type": "quantitative", "axis": {"orient": "left", "values": [-80, -60, -40, -20, 20, 40, 60, 80, 120, 140, 160, 180, 220, 240, 260, 280], "labels": false, "tickSize": 2, "title": null}}
     }}
   ],
   "resolve": {"axis": {"x": "independent", "y": "independent"}}
  }
]
}
